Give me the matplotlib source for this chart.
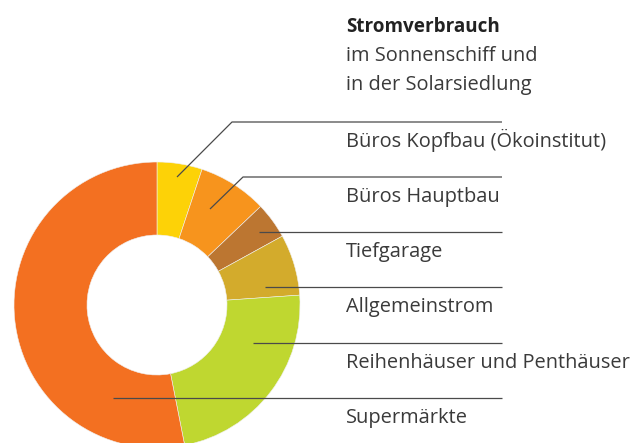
import matplotlib.pyplot as plt

# Anteile am Stromverbrauch (%), im Uhrzeigersinn ab 12 Uhr
labels = ['Büros Kopfbau (Ökoinstitut)', 'Büros Hauptbau', 'Tiefgarage',
          'Allgemeinstrom', 'Reihenhäuser und Penthäuser', 'Supermärkte']
werte = [5.1, 7.8, 4.1, 6.9, 23.0, 53.1]
farben = ['#FDD207', '#F7941D', '#BC7631', '#D3AB2C', '#BFD730', '#F37021']

titel = 'Stromverbrauch'
untertitel = ['im Sonnenschiff und', 'in der Solarsiedlung']

W, H = 630, 443
fig = plt.figure(figsize=(W / 100, H / 100), dpi=100)
ax = fig.add_axes([0, 0, 1, 1])

def fy(y):
    # Pixel von oben -> Datenkoordinate von unten
    return H - y

cx, cy, R, r = 157, 305, 143, 70
ax.pie(werte, colors=farben, startangle=90, counterclock=False,
       center=(cx, fy(cy)), radius=R,
       wedgeprops=dict(width=R - r, linewidth=0.4, edgecolor='#f0f0f0'))

# Hinweislinien: Startpunkt im Ring, Knick, waagrechte Linie bis x=502
linien = [
    [(177, 177), (232, 122)],
    [(210, 209), (243, 177)],
    [(259, 232)],
    [(265, 287)],
    [(253, 343)],
    [(113, 398)],
]
x_ende = 502
x_text = 346
for lab, pts in zip(labels, linien):
    y_lin = pts[-1][1]
    xs = [p[0] for p in pts] + [x_ende]
    ys = [fy(p[1]) for p in pts] + [fy(y_lin)]
    ax.plot(xs, ys, color='#4a4a4a', lw=0.9, zorder=5, solid_capstyle='butt')
    ax.text(x_text, fy(y_lin + 25), lab, fontsize=14.4, family='Open Sans',
            color='#3a3a3a', va='baseline', ha='left')

ax.text(x_text, fy(32), titel, fontsize=13.6, family='Open Sans',
        fontweight='bold', color='#222222', va='baseline')
for i, zeile in enumerate(untertitel):
    ax.text(x_text, fy(61 + 29 * i), zeile, fontsize=14.4, family='Open Sans',
            color='#3a3a3a', va='baseline')

ax.set_xlim(0, W)
ax.set_ylim(0, H)
ax.set_aspect('equal')
ax.axis('off')

fig.savefig('out.png', dpi=100)
